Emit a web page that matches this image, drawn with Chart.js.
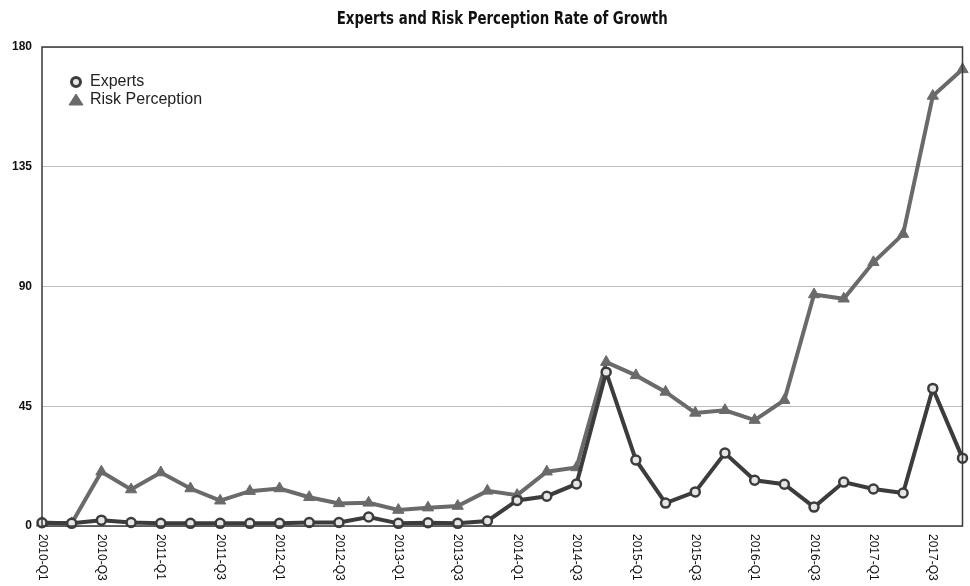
<!DOCTYPE html>
<html>
<head>
<meta charset="utf-8">
<script src="https://cdn.jsdelivr.net/npm/chart.js@4"></script>
<style>
  html, body { margin: 0; padding: 0; background: #fff; }
  #wrap { width: 970px; height: 586px; }
</style>
</head>
<body>
<div id="wrap"><canvas id="chart" width="970" height="586"></canvas></div>
<script>
// quarters 2010-Q1 .. 2017-Q4
const quarters = [
  '2010-Q1', '2010-Q2', '2010-Q3', '2010-Q4',
  '2011-Q1', '2011-Q2', '2011-Q3', '2011-Q4',
  '2012-Q1', '2012-Q2', '2012-Q3', '2012-Q4',
  '2013-Q1', '2013-Q2', '2013-Q3', '2013-Q4',
  '2014-Q1', '2014-Q2', '2014-Q3', '2014-Q4',
  '2015-Q1', '2015-Q2', '2015-Q3', '2015-Q4',
  '2016-Q1', '2016-Q2', '2016-Q3', '2016-Q4',
  '2017-Q1', '2017-Q2', '2017-Q3', '2017-Q4'
];

const expertsValues = [
  1.2, 1.0, 2.2, 1.3, 1.0, 1.0, 1.0, 1.0,
  1.0, 1.3, 1.3, 3.4, 1.0, 1.2, 1.0, 1.9,
  9.6, 11.2, 15.8, 57.8, 24.8, 8.6, 12.8, 27.4,
  17.2, 15.7, 7.1, 16.5, 13.9, 12.4, 51.7, 25.5
];

const riskValues = [
  1.2, 1.0, 20.4, 13.7, 20.1, 14.1, 9.5, 13.1,
  14.1, 10.8, 8.5, 8.7, 6.0, 6.9, 7.5, 13.2,
  11.6, 20.4, 22.0, 61.6, 56.6, 50.4, 42.5, 43.5,
  39.8, 47.3, 87.0, 85.4, 99.1, 109.7, 161.6, 171.6
];

const yTicks = [0, 45, 90, 135, 180];

const chartTitle = 'Experts and Risk Perception Rate of Growth';

const titleFont = "bold 17px 'DejaVu Sans Condensed', 'Liberation Sans', sans-serif";
const labelFont = "12px 'Liberation Sans', Arial, sans-serif";
const legendFont = "16px 'Liberation Sans', Arial, sans-serif";

// Draws title, frame, rotated x labels and the legend
const decorations = {
  id: 'decorations',
  afterDraw(chart) {
    const ctx = chart.ctx;
    const area = chart.chartArea;
    const xScale = chart.scales.x;

    ctx.save();
    // title centred over plot area, squeezed to a condensed width
    ctx.fillStyle = '#111';
    ctx.font = titleFont;
    ctx.textAlign = 'center';
    ctx.textBaseline = 'middle';
    const tw = ctx.measureText(chartTitle).width;
    const squeeze = Math.min(1, 331 / tw);
    ctx.save();
    ctx.translate((area.left + area.right) / 2, 19);
    ctx.scale(squeeze, 1.05);
    ctx.fillText(chartTitle, 0, 0);
    ctx.restore();

    // frame round plot area
    ctx.strokeStyle = '#3a3a3a';
    ctx.lineWidth = 1.5;
    ctx.strokeRect(area.left, area.top, area.right - area.left, area.bottom - area.top);

    // x labels, every other quarter, reading top to bottom
    ctx.fillStyle = '#111';
    ctx.font = labelFont;
    ctx.textAlign = 'left';
    ctx.textBaseline = 'middle';
    quarters.forEach((q, i) => {
      if (i % 2 !== 0) return;
      const x = xScale.getPixelForValue(i);
      ctx.save();
      ctx.translate(x, area.bottom + 8);
      ctx.rotate(Math.PI / 2);
      ctx.fillText(q, 0, 0);
      ctx.restore();
    });

    // legend inside plot
    const items = chart.data.datasets;
    items.forEach((ds, i) => {
      const y = 82 + i * 18;
      const x = 76;
      ctx.fillStyle = ds.pointBackgroundColor;
      ctx.strokeStyle = ds.pointBorderColor;
      ctx.lineWidth = ds.pointBorderWidth;
      if (ds.pointStyle === 'circle') {
        ctx.lineWidth = 3;
        ctx.beginPath();
        ctx.arc(x, y, 4.5, 0, Math.PI * 2);
        ctx.fill();
        ctx.stroke();
      } else {
        ctx.beginPath();
        ctx.moveTo(x, y - 6);
        ctx.lineTo(x + 7, y + 5);
        ctx.lineTo(x - 7, y + 5);
        ctx.closePath();
        ctx.fill();
        ctx.stroke();
      }
      ctx.fillStyle = '#222';
      ctx.font = legendFont;
      ctx.textAlign = 'left';
      ctx.textBaseline = 'middle';
      ctx.fillText(ds.label, x + 14, y);
    });
    ctx.restore();
  }
};

new Chart(document.getElementById('chart'), {
  type: 'line',
  data: {
    labels: quarters,
    datasets: [
      {
        label: 'Experts',
        data: expertsValues,
        borderColor: '#3c3c3c',
        borderWidth: 4,
        pointStyle: 'circle',
        pointRadius: 4.5,
        pointBorderWidth: 2.5,
        pointBorderColor: '#3c3c3c',
        pointBackgroundColor: '#e6e6e6',
        tension: 0,
        clip: false
      },
      {
        label: 'Risk Perception',
        data: riskValues,
        borderColor: '#6a6a6a',
        borderWidth: 4,
        pointStyle: 'triangle',
        pointRadius: 6.5,
        pointBorderWidth: 1,
        pointBorderColor: '#6a6a6a',
        pointBackgroundColor: '#6a6a6a',
        tension: 0,
        clip: false
      }
    ]
  },
  options: {
    responsive: false,
    animation: false,
    devicePixelRatio: 1,
    layout: { padding: { top: 47, right: 7, bottom: 60, left: 0 } },
    plugins: {
      legend: { display: false },
      title: { display: false },
      tooltip: { enabled: false }
    },
    scales: {
      x: {
        offset: false,
        afterFit(scale) { scale.height = 0; },
        grid: { display: false },
        border: { display: false },
        ticks: { display: false }
      },
      y: {
        min: 0,
        max: 180,
        afterFit(scale) { scale.width = 42; },
        afterBuildTicks(scale) { scale.ticks = yTicks.map(v => ({ value: v })); },
        grid: { color: '#bdbdbd', lineWidth: 1, drawTicks: false },
        border: { display: false },
        ticks: {
          padding: 10,
          color: '#111',
          font: { family: "'Liberation Sans', Arial, sans-serif", size: 12, weight: 'bold' }
        }
      }
    }
  },
  plugins: [decorations]
});
</script>
</body>
</html>
